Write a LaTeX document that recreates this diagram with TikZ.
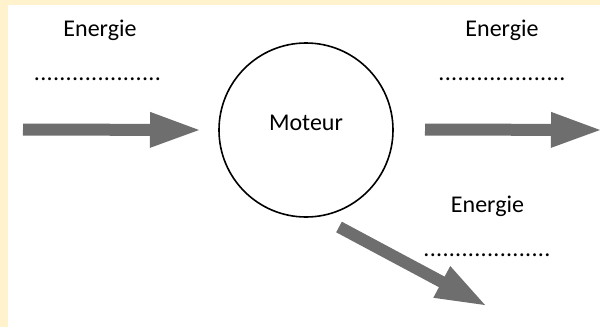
\documentclass[tikz,border=0pt]{standalone}
\usepackage{fontspec}
\setmainfont{Carlito}
\usetikzlibrary{calc}
\definecolor{cream}{RGB}{255,242,204}
\definecolor{arrowgray}{RGB}{110,110,110}

% thick block arrow from tail #1 to tip #2
\newcommand\fatarrow[2]{%
  \coordinate (fa-h) at ($(#2)!49pt!(#1)$);
  \fill[arrowfill] ($(#1)!6pt!90:(#2)$) -- ($(fa-h)!6pt!90:(#2)$)
    -- ($(fa-h)!18pt!90:(#2)$) -- (#2) -- ($(fa-h)!18pt!-90:(#2)$)
    -- ($(fa-h)!6pt!-90:(#2)$) -- ($(#1)!6pt!-90:(#2)$) -- cycle;}

\begin{document}
\begin{tikzpicture}[x=1pt,y=-1pt,
  lbl/.style={inner sep=0pt, anchor=base, font=\fontsize{24}{28}\selectfont},
  dots/.style={lbl, font=\fontsize{24}{28}\selectfont\addfontfeatures{LetterSpace=1.3}},
  engine/.style={circle, draw=black, line width=1.6pt, minimum size=174pt, inner sep=0pt},
  arrowfill/.style={fill=arrowgray}]
  % page and frame
  \fill[cream] (0,0) rectangle (600,327);
  \fill[white] (8,5) rectangle (600,327);
  \useasboundingbox (0,0) rectangle (600,327);

  % motor
  \node[engine] (moteur) at (306,130) {};
  \node[lbl] (moteur-text) at (306,130) {Moteur};

  % energy labels
  \node[lbl] (e-in) at (100,36) {Energie};
  \node[dots] (d-in) at (97.5,80.5) {....................};
  \node[lbl] (e-out) at (502,36) {Energie};
  \node[dots] (d-out) at (502,80.5) {....................};
  \node[lbl] (e-loss) at (487.5,212.5) {Energie};
  \node[dots] (d-loss) at (487,256.5) {....................};

  % arrow ends
  \coordinate (in-tail) at (23,129.5);
  \coordinate (in-tip) at (199,130);
  \coordinate (out-tail) at (425,129.5);
  \coordinate (out-tip) at (600,130);
  \coordinate (loss-tail) at (339,227);
  \coordinate (loss-tip) at (485,305);

  \fatarrow{in-tail}{in-tip}
  \fatarrow{out-tail}{out-tip}
  \fatarrow{loss-tail}{loss-tip}
\end{tikzpicture}
\end{document}
